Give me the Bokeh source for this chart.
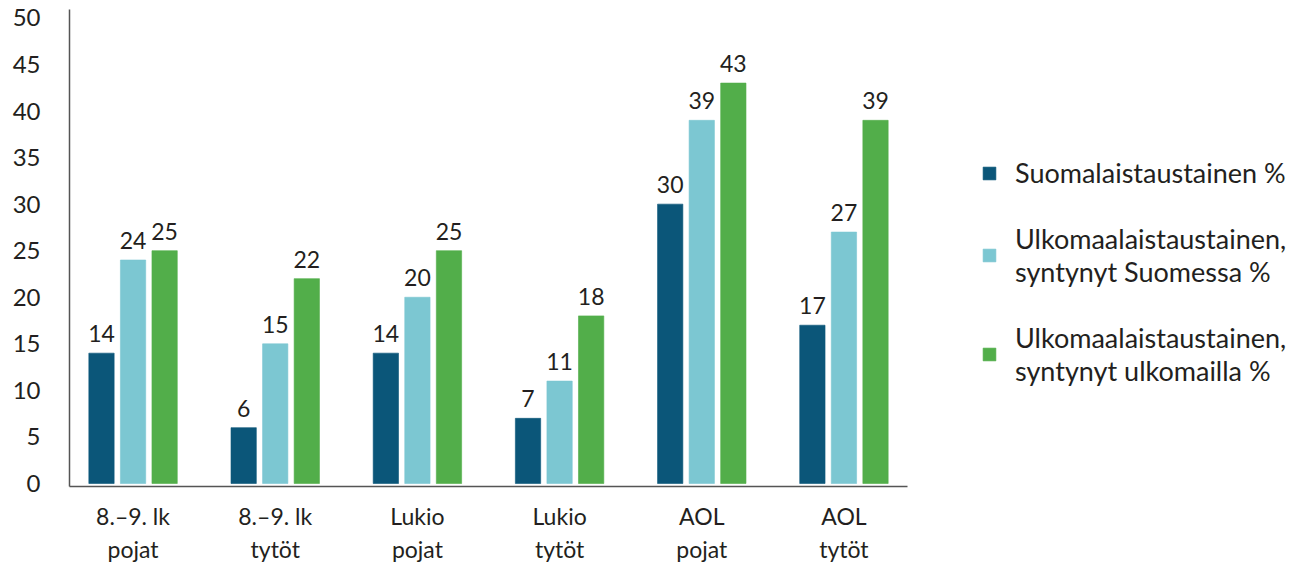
from bokeh.plotting import figure
from bokeh.models import ColumnDataSource, FactorRange, Legend, LegendItem, Range1d, FixedTicker
from bokeh.transform import dodge
from bokeh.core.properties import value
from bokeh.embed import file_html
from bokeh.resources import INLINE

categories = ["8.–9. lk\npojat", "8.–9. lk\ntytöt", "Lukio\npojat", "Lukio\ntytöt", "AOL\npojat", "AOL\ntytöt"]
suomalais = [14, 6, 14, 7, 30, 17]
ulko_suomessa = [24, 15, 20, 11, 39, 27]
ulko_ulkomailla = [25, 22, 25, 18, 43, 39]
series_names = ["Suomalaistaustainen %",
                "Ulkomaalaistaustainen,\nsyntynyt Suomessa %",
                "Ulkomaalaistaustainen,\nsyntynyt ulkomailla %"]
colors = ["#0B5679", "#7CC7D2", "#52AE4A"]
y_ticks = [0, 5, 10, 15, 20, 25, 30, 35, 40, 45, 50]

FONT = "Lato"
TXT = "#231F20"

src = ColumnDataSource(dict(
    cat=categories,
    s0=suomalais, s1=ulko_suomessa, s2=ulko_ulkomailla,
    l0=[str(v) for v in suomalais],
    l1=[str(v) for v in ulko_suomessa],
    l2=[str(v) for v in ulko_ulkomailla],
))

xr = FactorRange(*categories, range_padding=-0.053, range_padding_units="absolute")
p = figure(x_range=xr, y_range=Range1d(-0.32, 50.9),
           frame_width=838, frame_height=477,
           min_border_left=69, min_border_top=9, min_border_bottom=0, min_border_right=0,
           output_backend="svg", toolbar_location=None)

offsets = [-0.222, 0.0, 0.222]
renderers = []
for i, off in enumerate(offsets):
    r = p.vbar(x=dodge("cat", off, range=p.x_range), top=f"s{i}", width=0.178, bottom=0,
               source=src, fill_color=colors[i], line_color=colors[i], line_alpha=0.6)
    renderers.append(r)
    p.text(x=dodge("cat", off, range=p.x_range), y=f"s{i}", text=f"l{i}", source=src,
           text_align="center", text_baseline="bottom", y_offset=-11,
           text_font=value(FONT), text_font_size="23px", text_color=TXT)

p.grid.visible = False
p.outline_line_color = None
p.background_fill_color = "white"

p.yaxis.ticker = FixedTicker(ticks=y_ticks)
for ax in (p.xaxis[0], p.yaxis[0]):
    ax.major_tick_line_color = None
    ax.minor_tick_line_color = None
    ax.axis_line_color = "#555555"
    ax.axis_line_width = 1.5
    ax.major_label_text_font = FONT
    ax.major_label_text_color = TXT
p.yaxis.major_label_text_font_size = "24px"
p.yaxis.major_label_standoff = 23
p.xaxis.major_label_text_font_size = "23px"
p.xaxis.major_label_standoff = 9
p.xaxis.major_label_text_line_height = 1.2

legend = Legend(items=[LegendItem(label=series_names[i], renderers=[renderers[i]]) for i in range(3)],
                location=(74, 99), orientation="vertical",
                glyph_width=16, glyph_height=16, label_standoff=18,
                label_text_font=FONT, label_text_font_size="27px", label_text_color=TXT,
                spacing=33, padding=0, margin=0, border_line_color=None,
                background_fill_alpha=0)
p.add_layout(legend, "right")

open("out.html", "w").write(file_html(p, INLINE))
